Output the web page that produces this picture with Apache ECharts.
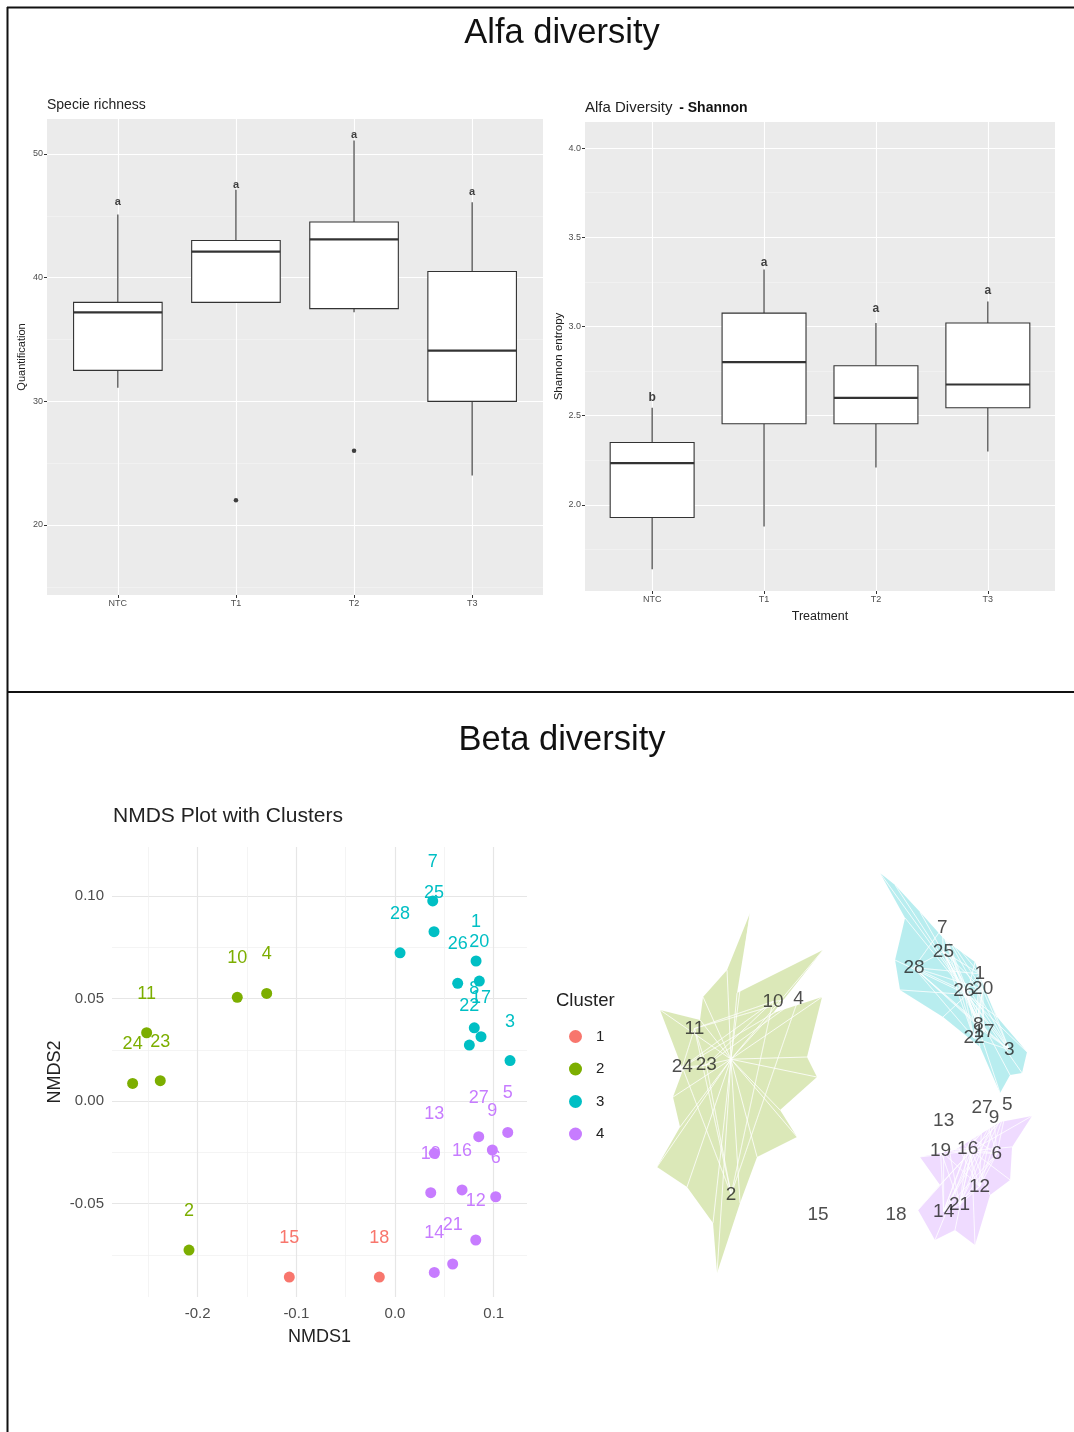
<!DOCTYPE html>
<html><head><meta charset="utf-8">
<script src="https://cdn.jsdelivr.net/npm/echarts@6/dist/echarts.min.js"></script>
<style>html,body{margin:0;padding:0;background:#fff}#c{width:1074px;height:1432px}</style>
</head><body><div id="c"></div>
<script>
// ---------- Alfa diversity: categories ----------
const treatments = ['NTC', 'T1', 'T2', 'T3'];

// Specie richness (Quantification)
const richMin    = [31.1, 38.0, 37.2, 24.0];
const richQ1     = [32.5, 38.0, 37.5, 30.0];
const richMedian = [37.2, 42.1, 43.1, 34.1];
const richQ3     = [38.0, 43.0, 44.5, 40.5];
const richMax    = [45.1, 47.1, 51.1, 46.1];
const richOutlierGroup = ['T1', 'T2'];
const richOutlierValue = [22.0, 26.0];
const richLetters = ['a', 'a', 'a', 'a'];
const richLetterY = [46.1, 47.5, 51.5, 46.9];
const richMajorTicks = [20, 30, 40, 50];
const richMinorTicks = [15, 25, 35, 45];

// Shannon entropy
const shanMin    = [1.64, 1.88, 2.21, 2.30];
const shanQ1     = [1.93, 2.455, 2.455, 2.545];
const shanMedian = [2.235, 2.80, 2.60, 2.675];
const shanQ3     = [2.35, 3.075, 2.78, 3.02];
const shanMax    = [2.545, 3.32, 3.02, 3.14];
const shanLetters = ['b', 'a', 'a', 'a'];
const shanLetterY = [2.60, 3.36, 3.10, 3.20];
const shanMajorTicks = [2.0, 2.5, 3.0, 3.5, 4.0];
const shanMinorTicks = [1.75, 2.25, 2.75, 3.25, 3.75];

// ---------- Beta diversity: NMDS ----------
const sampleIds = [1,2,3,4,5,6,7,8,9,10,11,12,13,14,15,16,17,18,19,20,21,22,23,24,25,26,27,28];
const nmds1 = [0.0821,-0.2087,0.1165,-0.1300,0.1142,0.1020,0.0382,0.0803,0.0986,-0.1598,-0.2516,0.0818,0.0398,0.0398,-0.1071,0.0679,0.0871,-0.0159,0.0362,0.0854,0.0584,0.0753,-0.2378,-0.2658,0.0395,0.0635,0.0848,0.0051];
const nmds2 = [0.0683,-0.0727,0.0197,0.0525,-0.0153,-0.0467,0.0976,0.0357,-0.0239,0.0506,0.0333,-0.0678,-0.0255,-0.0836,-0.0859,-0.0434,0.0314,-0.0859,-0.0447,0.0585,-0.0795,0.0273,0.0099,0.0086,0.0826,0.0574,-0.0174,0.0723];
const clusterOf = [3,2,3,2,4,4,3,3,4,2,2,4,4,4,1,4,3,1,4,3,4,3,2,2,3,3,4,3];
const clusterNames = ['1', '2', '3', '4'];
const nmdsXMajor = [-0.2, -0.1, 0.0, 0.1];
const nmdsXMinor = [-0.25, -0.15, -0.05, 0.05];
const nmdsYMajor = [-0.05, 0.0, 0.05, 0.10];
const nmdsYMinor = [-0.075, -0.025, 0.025, 0.075];

// hull outlines of the cluster shapes (NMDS units)
const hull2 = [[-0.1866,0.1072],[-0.2018,0.0560],[-0.1013,0.0835],[-0.1597,0.0433],[-0.1024,0.0535],[-0.1200,0.0151],[-0.1083,0.0023],[-0.1515,-0.0188],[-0.1317,-0.0360],[-0.1784,-0.0488],[-0.1983,-0.0782],[-0.2252,-0.1230],[-0.2299,-0.0910],[-0.2603,-0.0680],[-0.2954,-0.0552],[-0.2685,-0.0296],[-0.2767,-0.0105],[-0.2650,0.0068],[-0.2919,0.0452],[-0.2451,0.0388],[-0.2416,0.0535],[-0.2135,0.0707]];
const hull3 = [[-0.0346,0.1328],[-0.0053,0.1040],[-0.0170,0.0771],[-0.0112,0.0580],[0.0391,0.0407],[0.0824,0.0215],[0.1058,-0.0079],[0.1175,0.0036],[0.1315,0.0049],[0.1373,0.0183],[0.1023,0.0407],[0.0882,0.0580],[0.0765,0.0759],[0.0414,0.0899],[0.0122,0.1078],[-0.0170,0.1251]];
const hull4 = [[0.0099,-0.0827],[0.0356,-0.0667],[0.0122,-0.0488],[0.0531,-0.0443],[0.1058,-0.0264],[0.1432,-0.0226],[0.1198,-0.0424],[0.1175,-0.0635],[0.0941,-0.0731],[0.0765,-0.1051],[0.0531,-0.0955],[0.0297,-0.1019]];

const clusterColors = ['#F8766D', '#7CAE00', '#00BFC4', '#C77CFF'];

// ---------- helpers ----------
const catPos = treatments.map((t, i) => i + 1);
function boxRender(halfW) {
  return function (params, api) {
    const x = api.value(0);
    const pMin = api.coord([x, api.value(1)]);
    const pQ1 = api.coord([x, api.value(2)]);
    const pMed = api.coord([x, api.value(3)]);
    const pQ3 = api.coord([x, api.value(4)]);
    const pMax = api.coord([x, api.value(5)]);
    const hw = api.size([halfW, 0])[0];
    const st = { stroke: '#333', lineWidth: 1.1, fill: null };
    return {
      type: 'group',
      children: [
        { type: 'line', shape: { x1: pQ3[0], y1: pQ3[1], x2: pMax[0], y2: pMax[1] }, style: st },
        { type: 'line', shape: { x1: pQ1[0], y1: pQ1[1], x2: pMin[0], y2: pMin[1] }, style: st },
        { type: 'rect', shape: { x: pQ3[0] - hw, y: pQ3[1], width: 2 * hw, height: pQ1[1] - pQ3[1] },
          style: { fill: '#fff', stroke: '#333', lineWidth: 1.1 } },
        { type: 'line', shape: { x1: pMed[0] - hw, y1: pMed[1], x2: pMed[0] + hw, y2: pMed[1] },
          style: { stroke: '#333', lineWidth: 2.2 } }
      ]
    };
  };
}
function blobRender(hull, members, color) {
  return function (params, api) {
    const poly = hull.map(p => api.coord(p));
    let cx = 0, cy = 0;
    members.forEach(p => { const c = api.coord(p); cx += c[0]; cy += c[1]; });
    cx /= members.length; cy /= members.length;
    const children = [{ type: 'polygon', shape: { points: poly }, style: { fill: color, opacity: 0.28 } }];
    poly.forEach(c => children.push({ type: 'line', shape: { x1: cx, y1: cy, x2: c[0], y2: c[1] },
      style: { stroke: '#fff', lineWidth: 0.9, opacity: 0.9 } }));
    members.forEach(p => { const c = api.coord(p);
      members.forEach(q => { const d = api.coord(q);
        children.push({ type: 'line', shape: { x1: c[0], y1: c[1], x2: d[0], y2: d[1] },
          style: { stroke: '#fff', lineWidth: 0.6, opacity: 0.8 } }); }); });
    return { type: 'group', children };
  };
}
function membersOf(k) {
  const out = [];
  sampleIds.forEach((id, i) => { if (clusterOf[i] === k) out.push([nmds1[i], nmds2[i]]); });
  return out;
}

const richBoxData = treatments.map((t, i) => [catPos[i], richMin[i], richQ1[i], richMedian[i], richQ3[i], richMax[i]]);
const shanBoxData = treatments.map((t, i) => [catPos[i], shanMin[i], shanQ1[i], shanMedian[i], shanQ3[i], shanMax[i]]);

const tickLabelStyle = { fontSize: 9, color: '#4D4D4D', fontFamily: 'Liberation Sans', margin: 4 };

function catXAxis(grid, nameOpt) {
  return Object.assign({
    gridIndex: grid, type: 'value', min: 0.4, max: 4.6,
    axisLine: { show: false },
    axisTick: { show: true, length: 3, lineStyle: { color: '#333' }, customValues: catPos },
    axisLabel: Object.assign({ customValues: catPos, formatter: v => treatments[Math.round(v) - 1] }, tickLabelStyle),
    splitLine: { show: true, lineStyle: { color: '#fff', width: 1.1 } }
  }, nameOpt || {});
}
function valYAxis(grid, min, max, major, fmt, nameOpt) {
  return Object.assign({
    gridIndex: grid, type: 'value', min: min, max: max, position: 'left',
    axisLine: { show: false },
    axisTick: { show: true, length: 3, lineStyle: { color: '#333' }, customValues: major },
    axisLabel: Object.assign({ customValues: major, formatter: fmt }, tickLabelStyle),
    splitLine: { show: true, lineStyle: { color: '#fff', width: 1.1 } }
  }, nameOpt || {});
}
function minorAxis(grid, min, max, minor, color, width) {
  return {
    gridIndex: grid, type: 'value', min: min, max: max, position: 'left',
    axisLine: { show: false },
    axisTick: { show: false, customValues: minor },
    axisLabel: { show: false, customValues: minor },
    splitLine: { show: true, lineStyle: { color: color, width: width } }
  };
}

const nmdsLabelFont = 'Liberation Sans';

const nmdsSeries = clusterNames.map((name, k) => ({
  name: name, type: 'scatter', xAxisIndex: 2, yAxisIndex: 4,
  symbol: 'circle', symbolSize: 11,
  itemStyle: { color: clusterColors[k], opacity: 1 },
  label: { show: true, position: 'inside', offset: [0, -39], formatter: '{b}',
    color: clusterColors[k], fontSize: 18, fontFamily: nmdsLabelFont },
  data: sampleIds.map((id, i) => clusterOf[i] === k + 1 ? { name: String(id), value: [nmds1[i], nmds2[i]] } : null)
    .filter(d => d)
}));

const option = {
  animation: false,
  backgroundColor: '#fff',
  grid: [
    { left: 47, top: 119, width: 496, height: 476, show: true, backgroundColor: '#EBEBEB', borderWidth: 0, outerBoundsMode: 'none' },
    { left: 585, top: 122, width: 470, height: 469, show: true, backgroundColor: '#EBEBEB', borderWidth: 0, outerBoundsMode: 'none' },
    { left: 112, top: 847, width: 415, height: 450, outerBoundsMode: 'none' },
    { left: 640, top: 860, width: 400, height: 430, outerBoundsMode: 'none' }
  ],
  xAxis: [
    catXAxis(0),
    catXAxis(1, { name: 'Treatment', nameLocation: 'middle', nameGap: 19,
      nameTextStyle: { fontSize: 12.5, color: '#222', fontFamily: 'Liberation Sans' } }),
    {
      gridIndex: 2, type: 'value', min: -0.2867, max: 0.1337,
      axisLine: { show: false },
      axisTick: { show: false, customValues: nmdsXMajor },
      axisLabel: { customValues: nmdsXMajor, formatter: v => v.toFixed(1), fontSize: 15, color: '#4D4D4D', margin: 9, fontFamily: 'Liberation Sans' },
      splitLine: { show: true, lineStyle: { color: '#E6E6E6', width: 1.2 } },
      name: 'NMDS1', nameLocation: 'middle', nameGap: 31,
      nameTextStyle: { fontSize: 18, color: '#222', fontFamily: 'Liberation Sans' }
    },
    Object.assign(minorAxis(2, -0.2867, 0.1337, nmdsXMinor, '#EFEFEF', 0.7), { position: 'bottom' }),
    { gridIndex: 3, type: 'value', min: -0.3153, max: 0.1525, show: false }
  ],
  yAxis: [
    valYAxis(0, 14.34, 52.83, richMajorTicks, v => String(v), {
      name: 'Quantification', nameLocation: 'middle', nameGap: 20, nameRotate: 90,
      nameTextStyle: { fontSize: 11, color: '#222', fontFamily: 'Liberation Sans' } }),
    minorAxis(0, 14.34, 52.83, richMinorTicks, '#F5F5F5', 0.6),
    valYAxis(1, 1.518, 4.146, shanMajorTicks, v => v.toFixed(1), {
      name: 'Shannon entropy', nameLocation: 'middle', nameGap: 20, nameRotate: 90,
      nameTextStyle: { fontSize: 11.5, color: '#222', fontFamily: 'Liberation Sans' } }),
    minorAxis(1, 1.518, 4.146, shanMinorTicks, '#F5F5F5', 0.6),
    {
      gridIndex: 2, type: 'value', min: -0.0956, max: 0.1239, position: 'left',
      axisLine: { show: false },
      axisTick: { show: false, customValues: nmdsYMajor },
      axisLabel: { customValues: nmdsYMajor, formatter: v => v.toFixed(2), fontSize: 15, color: '#4D4D4D', margin: 8, fontFamily: 'Liberation Sans' },
      splitLine: { show: true, lineStyle: { color: '#E6E6E6', width: 1.2 } },
      name: 'NMDS2', nameLocation: 'middle', nameGap: 48, nameRotate: 90,
      nameTextStyle: { fontSize: 18, color: '#222', fontFamily: 'Liberation Sans' }
    },
    minorAxis(2, -0.0956, 0.1239, nmdsYMinor, '#EFEFEF', 0.7),
    { gridIndex: 3, type: 'value', min: -0.1339, max: 0.1411, show: false }
  ],
  legend: {
    data: clusterNames, orient: 'vertical', left: 564, top: 1024,
    icon: 'circle', itemWidth: 13, itemHeight: 13, itemGap: 17.5,
    textStyle: { fontSize: 15, color: '#222', fontFamily: 'Liberation Sans', padding: [0, 0, 0, 9] },
    selectedMode: false
  },
  graphic: [
    { type: 'line', shape: { x1: 7, y1: 7.5, x2: 1074, y2: 7.5 }, style: { stroke: '#111', lineWidth: 2 } },
    { type: 'line', shape: { x1: 7.5, y1: 7, x2: 7.5, y2: 1432 }, style: { stroke: '#111', lineWidth: 2 } },
    { type: 'line', shape: { x1: 7, y1: 692, x2: 1074, y2: 692 }, style: { stroke: '#111', lineWidth: 2.2 } },
    { type: 'text', x: 562, y: 33, style: { text: 'Alfa diversity', fontSize: 34.5, fontFamily: 'Liberation Sans', fill: '#111', align: 'center', verticalAlign: 'middle' } },
    { type: 'text', x: 562, y: 740, style: { text: 'Beta diversity', fontSize: 34.5, fontFamily: 'Liberation Sans', fill: '#111', align: 'center', verticalAlign: 'middle' } },
    { type: 'text', x: 47, y: 105, style: { text: 'Specie richness', fontSize: 14, fontFamily: 'Liberation Sans', fill: '#222', align: 'left', verticalAlign: 'middle' } },
    { type: 'text', x: 585, y: 108, style: { text: '{a|Alfa Diversity}  {b|- Shannon}', align: 'left', verticalAlign: 'middle',
        rich: { a: { fontSize: 15, fontFamily: 'Liberation Sans', fill: '#222' }, b: { fontSize: 14, fontWeight: 'bold', fontFamily: 'Liberation Sans', fill: '#111' } } } },
    { type: 'text', x: 113, y: 816, style: { text: 'NMDS Plot with Clusters', fontSize: 21, fontFamily: 'Liberation Sans', fill: '#222', align: 'left', verticalAlign: 'middle' } },
    { type: 'text', x: 556, y: 1001, style: { text: 'Cluster', fontSize: 18.5, fontFamily: 'Liberation Sans', fill: '#222', align: 'left', verticalAlign: 'middle' } }
  ],
  series: [
    { type: 'custom', xAxisIndex: 0, yAxisIndex: 0, renderItem: boxRender(0.375), encode: { x: 0, y: [1, 2, 3, 4, 5] }, data: richBoxData, z: 3 },
    { type: 'scatter', xAxisIndex: 0, yAxisIndex: 0, symbolSize: 4.5, itemStyle: { color: '#111' },
      data: richOutlierGroup.map((g, i) => [treatments.indexOf(g) + 1, richOutlierValue[i]]), z: 4 },
    { type: 'scatter', xAxisIndex: 0, yAxisIndex: 0, symbolSize: 0, itemStyle: { color: 'transparent' },
      label: { show: true, position: 'inside', formatter: p => p.value[2], fontSize: 11, fontWeight: 'bold', color: '#111', fontFamily: 'Liberation Sans' },
      data: treatments.map((t, i) => [catPos[i], richLetterY[i], richLetters[i]]), z: 5 },
    { type: 'custom', xAxisIndex: 1, yAxisIndex: 2, renderItem: boxRender(0.375), encode: { x: 0, y: [1, 2, 3, 4, 5] }, data: shanBoxData, z: 3 },
    { type: 'scatter', xAxisIndex: 1, yAxisIndex: 2, symbolSize: 0, itemStyle: { color: 'transparent' },
      label: { show: true, position: 'inside', formatter: p => p.value[2], fontSize: 12, fontWeight: 'bold', color: '#111', fontFamily: 'Liberation Sans' },
      data: treatments.map((t, i) => [catPos[i], shanLetterY[i], shanLetters[i]]), z: 5 },
    ...nmdsSeries,
    { type: 'custom', xAxisIndex: 4, yAxisIndex: 6, renderItem: blobRender(hull2, membersOf(2), clusterColors[1]), data: [[0, 0]], z: 1, silent: true },
    { type: 'custom', xAxisIndex: 4, yAxisIndex: 6, renderItem: blobRender(hull3, membersOf(3), clusterColors[2]), data: [[0, 0]], z: 1, silent: true },
    { type: 'custom', xAxisIndex: 4, yAxisIndex: 6, renderItem: blobRender(hull4, membersOf(4), clusterColors[3]), data: [[0, 0]], z: 1, silent: true },
    { type: 'scatter', xAxisIndex: 4, yAxisIndex: 6, symbolSize: 1, itemStyle: { color: 'transparent' }, z: 5,
      label: { show: true, position: 'inside', formatter: '{b}', fontSize: 19, color: '#222', fontFamily: 'Liberation Sans' },
      data: sampleIds.map((id, i) => ({ name: String(id), value: [nmds1[i], nmds2[i]] })) }
  ]
};

const chart = echarts.init(document.getElementById('c'), null, { renderer: 'canvas' });
chart.setOption(option);
</script>
</body></html>
